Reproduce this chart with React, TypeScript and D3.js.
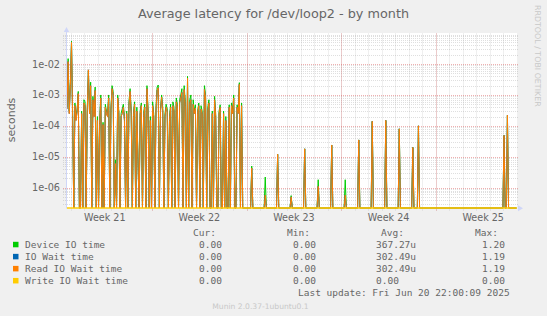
import React from "react";
import * as d3 from "d3";

const W = 547;
const H = 316;
const TITLE = "Average latency for /dev/loop2 - by month";
const Y_LABEL = "seconds";
const WATERMARK = "RRDTOOL / TOBI OETIKER";
const LAST_UPDATE = "Last update: Fri Jun 20 22:00:09 2025";
const VERSION = "Munin 2.0.37-1ubuntu0.1";

// time axis (2 hour consolidated samples)
const START = Date.UTC(2025, 4, 18, 17, 0);
const END = Date.UTC(2025, 5, 21, 0, 0);
const STEP_MS = 2 * 3600 * 1000;
const SLOT_COUNT = 400;

// y axis (log)
const Y_MIN = Math.pow(10, -6.66);
const Y_MAX = Math.pow(10, -1.01);
const yMajorValues = [1e-2, 1e-3, 1e-4, 1e-5, 1e-6];
const yMajorLabels = ["1e-02", "1e-03", "1e-04", "1e-05", "1e-06"];

// dense part of the month, microseconds per 2h sample (slot 0..155)
const deviceDenseUs = [
  400, 15000, 300, 2500, 55000, 250, 0, 550, 200, 350,
  1300, 0, 0, 300, 0, 700, 600, 0, 350, 6000,
  300, 2600, 0, 900, 250, 1800, 0, 200, 0, 150,
  1000, 0, 130, 0, 500, 300, 250, 1000, 0, 350,
  2000, 1300, 0, 8, 0, 1000, 300, 0, 250, 350,
  500, 200, 0, 300, 0, 600, 1600, 300, 0, 250,
  600, 0, 400, 10, 0, 300, 550, 0, 250, 500,
  0, 2000, 300, 0, 200, 0, 600, 250, 0, 400,
  1800, 2100, 0, 350, 1000, 400, 0, 250, 500, 350,
  0, 200, 500, 0, 600, 400, 0, 800, 500, 0,
  700, 1000, 1600, 0, 2000, 600, 0, 4000, 0, 700,
  1000, 0, 700, 300, 480, 0, 300, 550, 0, 450,
  300, 0, 2000, 1000, 0, 400, 700, 0, 0, 300,
  0, 900, 250, 0, 0, 300, 480, 0, 0, 300,
  0, 200, 0, 0, 480, 0, 550, 300, 1000, 0,
  0, 480, 300, 2500, 0, 550,
];
const readDenseUs = [
  350, 12000, 250, 2000, 50000, 200, 0, 450, 150, 300,
  1100, 0, 0, 250, 0, 550, 450, 0, 300, 6500,
  250, 2000, 0, 700, 200, 1400, 0, 150, 0, 120,
  800, 0, 110, 0, 400, 250, 200, 800, 0, 300,
  1600, 1000, 0, 6, 0, 800, 250, 0, 200, 250,
  400, 150, 0, 250, 0, 450, 1300, 250, 0, 200,
  500, 0, 300, 8, 0, 250, 450, 0, 200, 400,
  0, 1600, 250, 0, 150, 0, 450, 200, 0, 300,
  1400, 1700, 0, 280, 850, 300, 0, 200, 400, 280,
  0, 150, 400, 0, 450, 300, 0, 600, 400, 0,
  550, 800, 1200, 0, 1500, 450, 0, 3500, 0, 550,
  700, 0, 500, 250, 380, 0, 250, 450, 0, 350,
  250, 0, 1500, 800, 0, 300, 550, 0, 0, 250,
  0, 700, 200, 0, 0, 250, 400, 0, 0, 250,
  0, 150, 0, 0, 400, 0, 450, 250, 800, 0,
  0, 400, 250, 2200, 0, 450,
];

// isolated daily spikes later in the month (slot index, microseconds)
const spikeSlots = [164, 176, 187, 199, 211, 223, 235, 247, 259, 271, 283, 295, 307, 312, 388, 391];
const spikeDeviceUs = [5, 2.2, 12, 0.55, 18, 1.8, 24, 1.8, 35, 140, 150, 80, 20, 100, 49, 220];
const spikeReadUs = [4.3, 0.57, 12, 0.5, 18, 1.1, 24, 0.57, 35, 140, 150, 80, 20, 100, 49, 220];

// legend
const seriesNames = ["Device IO time", "IO Wait time", "Read IO Wait time", "Write IO Wait time"];
const seriesColors = ["#00CC00", "#0066B3", "#FF8000", "#FFCC00"];
const curValues = ["0.00", "0.00", "0.00", "0.00"];
const minValues = ["0.00", "0.00", "0.00", "0.00"];
const avgValues = ["367.27u", "302.49u", "302.49u", "  0.00"];
const maxValues = ["1.20", "1.19", "1.19", "0.00"];

function buildSeries(dense: number[], spikes: number[]): number[] {
  const out = new Array(SLOT_COUNT).fill(0);
  dense.forEach((v, i) => (out[i] = v));
  spikeSlots.forEach((s, i) => (out[s] = spikes[i]));
  return out;
}

const deviceSeries = buildSeries(deviceDenseUs, spikeDeviceUs);
const readSeries = buildSeries(readDenseUs, spikeReadUs);
// IO Wait equals Read IO Wait in the reference (same avg / max)
const ioWaitSeries = readSeries;
const writeSeries = new Array(SLOT_COUNT).fill(0);

const FONT = "'DejaVu Sans', sans-serif";
const MONO = "'DejaVu Sans Mono', monospace";

export default function App() {
  const x0 = 67, x1 = 517, yTop = 33.5, yBot = 208;
  const x = d3.scaleUtc().domain([new Date(START), new Date(END)]).range([x0, x1]);
  const y = d3.scaleLog().domain([Y_MIN, Y_MAX]).range([yBot, yTop]);
  const toY = (us: number) => (us > 0 ? Math.max(yTop, Math.min(yBot, y(us * 1e-6))) : yBot);
  const line = d3
    .line<number>()
    .x((_, i) => x(new Date(START + i * STEP_MS)))
    .y((d) => toY(d));

  // grid
  const minorY: number[] = [];
  for (let e = -7; e <= -2; e++) {
    for (let k = 2; k <= 9; k++) {
      const v = k * Math.pow(10, e);
      if (v > Y_MIN && v < Y_MAX) minorY.push(v);
    }
  }
  const days = d3.utcDay.range(new Date(START), new Date(END));
  const weeks = d3.utcSunday.range(new Date(START), new Date(END));
  const weekStarts = d3.utcSunday.range(d3.utcSunday.floor(new Date(START)), new Date(END));
  const fmtWeek = d3.utcFormat("%V");
  const weekLabels = weekStarts
    .map((s) => new Date(s.getTime() + 3.5 * 86400000))
    .filter((m) => m.getTime() > START && m.getTime() < END);

  const minorColor = "rgba(150,150,150,0.3)";
  const majorColor = "rgba(222,79,79,0.45)";
  const axisColor = "#CFD6F8";
  const fontColor = "#666666";

  const seriesList = [deviceSeries, ioWaitSeries, readSeries, writeSeries];

  const legendY0 = 244.3;
  const legendDy = 12.05;

  return (
    <svg
      width={W}
      height={H}
      style={{ position: "absolute", left: 0, top: 0 }}
      xmlns="http://www.w3.org/2000/svg"
    >
      <rect x={0} y={0} width={W} height={H} fill="#F0F0F0" />
      <rect x={x0} y={yTop - 0.5} width={x1 - x0} height={yBot - yTop + 0.5} fill="#FFFFFF" />

      <text x={273.5} y={17.5} textAnchor="middle" fontFamily={FONT} fontSize={12.8} fill={fontColor}>
        {TITLE}
      </text>
      <text
        transform="translate(15,120) rotate(-90)"
        textAnchor="middle"
        fontFamily={FONT}
        fontSize={10.9}
        fill={fontColor}
      >
        {Y_LABEL}
      </text>
      <text transform="translate(535,5) rotate(90)" fontFamily={FONT} fontSize={7.9} fill="#C8C8C8">
        {WATERMARK}
      </text>

      <defs>
        <clipPath id="plotclip">
          <rect x={x0} y={yTop - 1} width={x1 - x0 + 1} height={yBot - yTop + 2} />
        </clipPath>
      </defs>

      {/* grid */}
      <g strokeWidth={1} strokeDasharray="1,1" fill="none">
        {minorY.map((v, i) => (
          <line key={"my" + i} x1={63} x2={519} y1={Math.round(y(v)) + 0.5} y2={Math.round(y(v)) + 0.5} stroke={minorColor} />
        ))}
        {days.map((d, i) => (
          <line key={"mx" + i} x1={Math.round(x(d)) + 0.5} x2={Math.round(x(d)) + 0.5} y1={yTop} y2={211} stroke={minorColor} />
        ))}
        {yMajorValues.map((v, i) => (
          <line key={"My" + i} x1={63} x2={519} y1={Math.round(y(v)) + 0.5} y2={Math.round(y(v)) + 0.5} stroke={majorColor} />
        ))}
        {weeks.map((d, i) => (
          <line key={"Mx" + i} x1={Math.round(x(d)) + 0.5} x2={Math.round(x(d)) + 0.5} y1={yTop} y2={211} stroke={majorColor} />
        ))}
      </g>

      <g clipPath="url(#plotclip)" fill="none" strokeWidth={1}>
        {seriesList.map((s, i) => (
          <path key={i} d={line(s) || ""} stroke={seriesColors[i]} strokeLinejoin="miter" />
        ))}
      </g>

      {/* axes */}
      <line x1={66.5} x2={66.5} y1={30} y2={208.5} stroke={axisColor} />
      <path d="M63.8,32 L69.2,32 L66.5,27 Z" fill={axisColor} />
      <path d="M518,205.3 L518,211.3 L523,208.3 Z" fill={axisColor} />
      <line x1={x0} x2={x1} y1={208} y2={208} stroke={seriesColors[3]} strokeWidth={1} />

      {/* y tick labels */}
      {yMajorValues.map((v, i) => (
        <text key={"yl" + i} x={60} y={y(v) + 3.5} textAnchor="end" fontFamily={FONT} fontSize={9.7} fill={fontColor}>
          {yMajorLabels[i]}
        </text>
      ))}
      {/* x labels */}
      {weekLabels.map((m, i) => (
        <text key={"xl" + i} x={x(m)} y={221.2} textAnchor="middle" fontFamily={FONT} fontSize={9.6} fill={fontColor}>
          {"Week " + +fmtWeek(m)}
        </text>
      ))}

      {/* legend */}
      <g fontFamily={MONO} fontSize={9.5} fill={fontColor} style={{ whiteSpace: "pre" }}>
        <text x={193} y={legendY0 - legendDy + 3.4}>Cur:</text>
        <text x={287} y={legendY0 - legendDy + 3.4}>Min:</text>
        <text x={381} y={legendY0 - legendDy + 3.4}>Avg:</text>
        <text x={475} y={legendY0 - legendDy + 3.4}>Max:</text>
        {seriesNames.map((n, i) => {
          const cy = legendY0 + i * legendDy;
          return (
            <g key={"lg" + i}>
              <rect x={13} y={cy - 2.5} width={5.5} height={5.5} fill={seriesColors[i]} />
              <text x={25} y={cy + 3.4}>{n}</text>
              <text x={199} y={cy + 3.4}>{curValues[i]}</text>
              <text x={293} y={cy + 3.4}>{minValues[i]}</text>
              <text x={376} y={cy + 3.4}>{avgValues[i]}</text>
              <text x={482} y={cy + 3.4}>{maxValues[i]}</text>
            </g>
          );
        })}
        <text x={298} y={legendY0 + 4 * legendDy + 3.4}>{LAST_UPDATE}</text>
      </g>
      <text x={260.5} y={308.5} textAnchor="middle" fontFamily={FONT} fontSize={7.6} fill="#C8C8C8">
        {VERSION}
      </text>
    </svg>
  );
}
